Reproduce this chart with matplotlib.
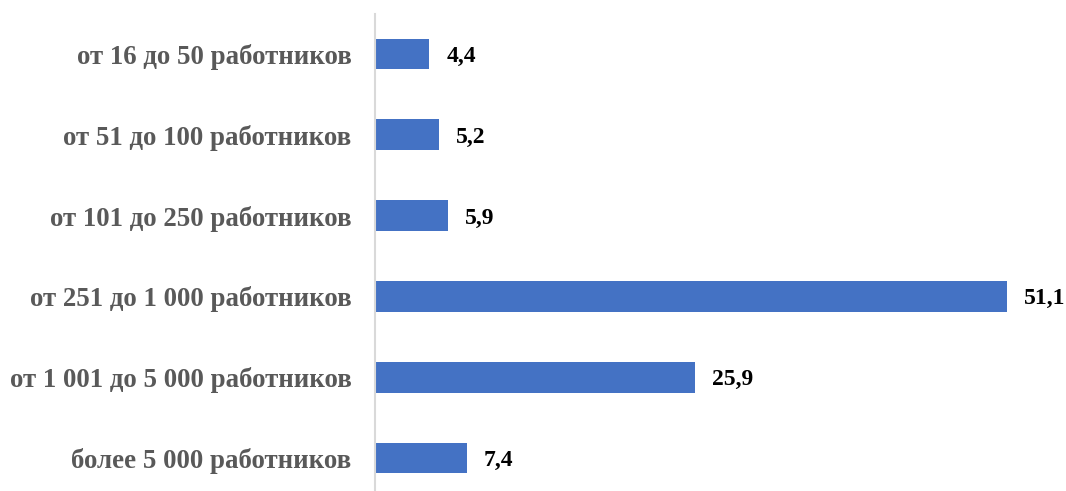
import numpy as np
import matplotlib.pyplot as plt

# Data
categories = ['от 16 до 50 работников', 'от 51 до 100 работников', 'от 101 до 250 работников',
              'от 251 до 1 000 работников', 'от 1 001 до 5 000 работников', 'более 5 000 работников']
values = [4.4, 5.2, 5.9, 51.1, 25.9, 7.4]
value_labels = ['4,4', '5,2', '5,9', '51,1', '25,9', '7,4']

plt.rcParams['font.family'] = ['Liberation Serif', 'DejaVu Serif']

fig = plt.figure(figsize=(10.66, 4.91), dpi=100)
W, H = 1066, 491
ax = fig.add_axes([375 / W, 0, (W - 375) / W, (H - 13.5) / H])

y = np.arange(len(categories))
ax.barh(y, values, height=0.38, color='#4472C4')

for yi, v, lab in zip(y, values, value_labels):
    ax.text(v + 1.35, yi + 0.03, lab, va='center', ha='left', fontsize=17,
            fontweight='bold', color='black')

ax.set_xlim(0, (W - 375) / 12.37)
ax.set_ylim(5.407, -0.5)
ax.set_yticks(y)
ax.set_yticklabels(categories, fontsize=19.4, fontweight='bold', color='#595959')
ax.tick_params(axis='y', length=0, pad=17)
ax.set_xticks([])

for s in ['top', 'right', 'bottom']:
    ax.spines[s].set_visible(False)
ax.spines['left'].set_color('#D9D9D9')
ax.spines['left'].set_linewidth(1.5)

fig.savefig('out.png', dpi=100)
